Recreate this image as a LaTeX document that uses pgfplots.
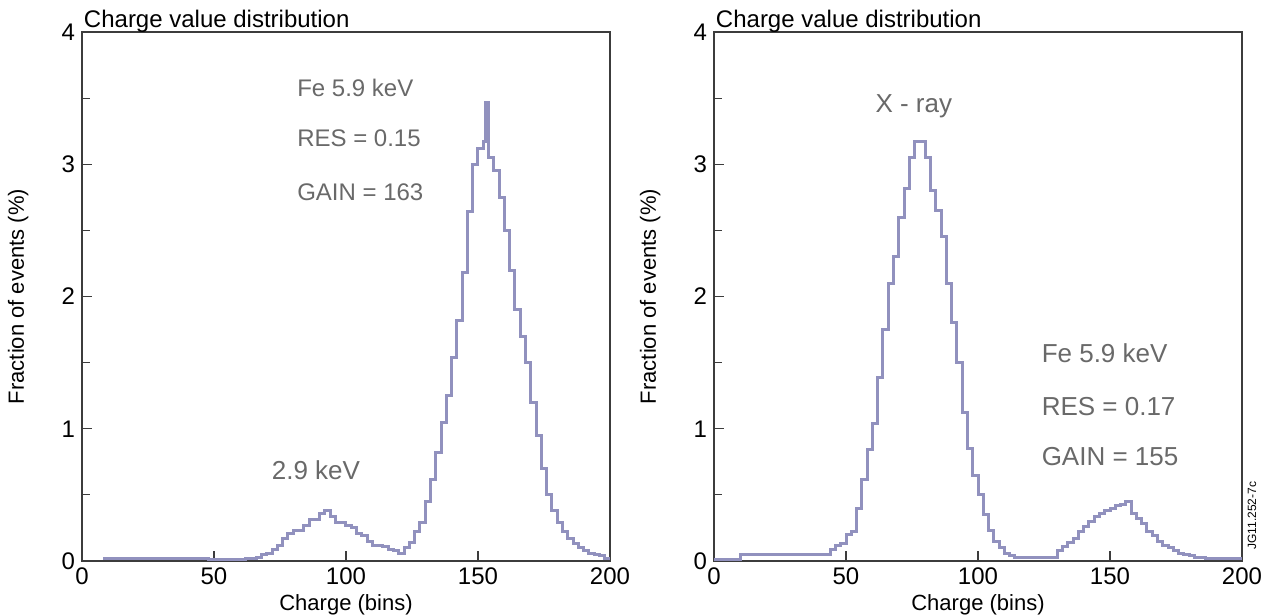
\documentclass[border=0pt]{standalone}
\usepackage{fontspec}
\setmainfont{Liberation Sans}
\usepackage{pgfplots}
\pgfplotsset{compat=1.18}
\definecolor{histline}{RGB}{145,145,190}
\definecolor{frame}{RGB}{60,60,60}
\definecolor{note}{RGB}{105,105,105}
\pgfplotsset{chargeax/.style={
  scale only axis, width=264pt, height=264.5pt,
  xmin=0, xmax=200, ymin=0, ymax=4,
  xtick={0,50,...,200}, ytick={0,1,2,3,4}, minor ytick={0.5,1.5,2.5,3.5},
  tick align=inside, xtick pos=left, ytick pos=left,
  tick style={frame, line width=0.6pt},
  major tick length=5pt, minor tick length=4pt,
  axis line style={frame, line width=0.8pt},
  /pgf/number format/assume math mode=true,
  ticklabel style={font=\fontsize{12}{14}\selectfont},
  label style={font=\fontsize{11}{13}\selectfont},
  xlabel={Charge (bins)}, ylabel={Fraction of events (\%)},
  xlabel style={at={(axis description cs:0.5,-0.083)}, anchor=center},
  ylabel style={at={(axis description cs:-0.121,0.5)}, anchor=center},
  clip=false,
  anchor=south west,
}}
\begin{document}
\begin{tikzpicture}
\useasboundingbox (-41pt,-27pt) rectangle (594.5pt,280.5pt);
% left panel: Fe 5.9 keV
\begin{axis}[chargeax, at={(0pt,0pt)}]
\addplot[const plot mark left, histline, line width=1.5pt] coordinates {
(8,0.02)(10,0.02)(12,0.02)(14,0.02)(16,0.02)(18,0.02)(20,0.02)(22,0.02)(24,0.02)(26,0.02)
(28,0.02)(30,0.02)(32,0.02)(34,0.02)(36,0.02)(38,0.02)(40,0.02)(42,0.02)(44,0.02)(46,0.02)
(48,0.01)(50,0.01)(52,0.01)(54,0.01)(56,0.01)(58,0.01)(60,0.01)(62,0.02)(64,0.02)(66,0.03)
(68,0.05)(70,0.06)(72,0.09)(74,0.12)(76,0.17)(78,0.21)(80,0.23)(82,0.23)(84,0.27)(86,0.31)
(88,0.31)(90,0.36)(92,0.38)(94,0.34)(96,0.29)(98,0.29)(100,0.27)(102,0.25)(104,0.21)(106,0.19)
(108,0.15)(110,0.12)(112,0.12)(114,0.11)(116,0.09)(118,0.08)(120,0.06)(122,0.10)(124,0.14)(126,0.22)
(128,0.29)(130,0.45)(132,0.62)(134,0.82)(136,1.05)(138,1.25)(140,1.54)(142,1.82)(144,2.18)(146,2.64)
(148,3.00)(150,3.12)(152,3.17)(153,3.47)(154,3.05)(156,2.95)(158,2.75)(160,2.50)(162,2.20)(164,1.90)
(166,1.70)(168,1.50)(170,1.20)(172,0.95)(174,0.70)(176,0.50)(178,0.38)(180,0.29)(182,0.22)(184,0.17)
(186,0.13)(188,0.10)(190,0.08)(192,0.06)(194,0.05)(196,0.04)(198,0.02)(200,0.02)};
\node[anchor=base west, inner sep=0pt, yshift=2.5pt, font=\fontsize{12}{14}\selectfont] at (rel axis cs:0.003,1) {Charge value distribution};
\node[anchor=west, inner sep=0pt, note, font=\fontsize{12}{14}\selectfont] at (axis cs:81.4,3.58) {Fe 5.9 keV};
\node[anchor=west, inner sep=0pt, note, font=\fontsize{12}{14}\selectfont] at (axis cs:81.4,3.20) {RES = 0.15};
\node[anchor=west, inner sep=0pt, note, font=\fontsize{12}{14}\selectfont] at (axis cs:81.4,2.79) {GAIN = 163};
\node[note, font=\fontsize{13}{15}\selectfont] at (axis cs:88.6,0.69) {2.9 keV};
\end{axis}
% right panel: X-ray
\begin{axis}[chargeax, at={(316pt,0pt)}]
\addplot[const plot mark left, histline, line width=1.5pt] coordinates {
(0,0.01)(2,0.01)(4,0.01)(6,0.01)(8,0.01)(10,0.05)(12,0.05)(14,0.05)(16,0.05)(18,0.05)
(20,0.05)(22,0.05)(24,0.05)(26,0.05)(28,0.05)(30,0.05)(32,0.05)(34,0.05)(36,0.05)(38,0.05)
(40,0.05)(42,0.05)(44,0.09)(46,0.12)(48,0.13)(50,0.20)(52,0.22)(54,0.40)(56,0.62)(58,0.84)
(60,1.04)(62,1.39)(64,1.75)(66,2.10)(68,2.30)(70,2.60)(72,2.82)(74,3.05)(76,3.17)(78,3.17)
(80,3.05)(82,2.80)(84,2.65)(86,2.45)(88,2.10)(90,1.80)(92,1.50)(94,1.12)(96,0.85)(98,0.65)
(100,0.50)(102,0.35)(104,0.23)(106,0.15)(108,0.10)(110,0.06)(112,0.04)(114,0.03)(116,0.03)(118,0.03)
(120,0.03)(122,0.03)(124,0.03)(126,0.03)(128,0.03)(130,0.08)(132,0.11)(134,0.14)(136,0.17)(138,0.22)
(140,0.26)(142,0.30)(144,0.34)(146,0.36)(148,0.38)(150,0.40)(152,0.42)(154,0.43)(156,0.45)(158,0.36)
(160,0.32)(162,0.28)(164,0.22)(166,0.19)(168,0.15)(170,0.12)(172,0.10)(174,0.08)(176,0.06)(178,0.05)
(180,0.04)(182,0.03)(184,0.03)(186,0.02)(188,0.02)(190,0.02)(192,0.02)(194,0.02)(196,0.02)(198,0.02)(200,0.02)};
\node[anchor=base west, inner sep=0pt, yshift=2.5pt, font=\fontsize{12}{14}\selectfont] at (rel axis cs:0.003,1) {Charge value distribution};
\node[note, font=\fontsize{13}{15}\selectfont] at (axis cs:75.7,3.44) {X - ray};
\node[anchor=west, inner sep=0pt, note, font=\fontsize{13}{15}\selectfont] at (axis cs:124,1.57) {Fe 5.9 keV};
\node[anchor=west, inner sep=0pt, note, font=\fontsize{13}{15}\selectfont] at (axis cs:124,1.17) {RES = 0.17};
\node[anchor=west, inner sep=0pt, note, font=\fontsize{13}{15}\selectfont] at (axis cs:124,0.79) {GAIN = 155};
\node[rotate=90, anchor=west, inner sep=0pt, font=\fontsize{6}{7}\selectfont] at (axis cs:203.8,0.083) {JG11.252-7c};
\end{axis}
\end{tikzpicture}
\end{document}
